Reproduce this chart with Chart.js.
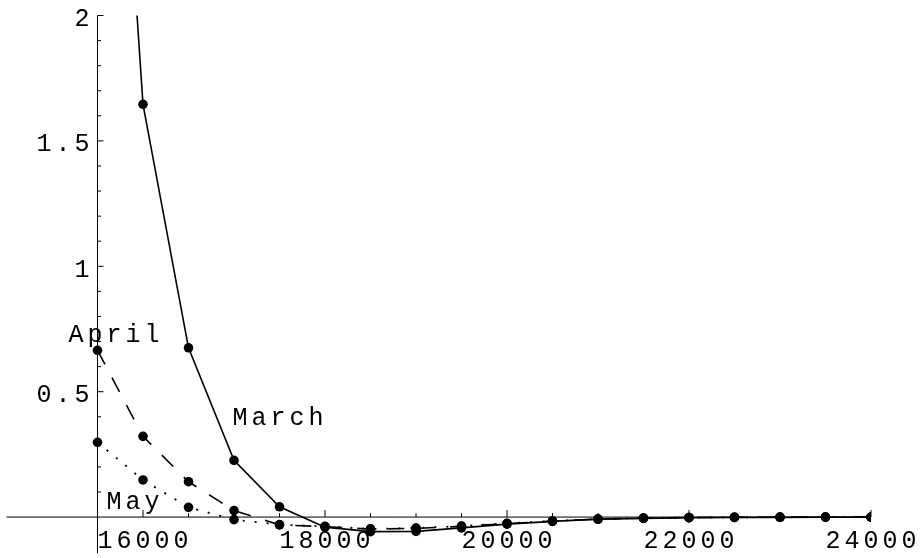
<!DOCTYPE html>
<html>
<head>
<meta charset="utf-8">
<script src="https://cdn.jsdelivr.net/npm/chart.js@4/dist/chart.umd.min.js"></script>
<style>
  html, body { margin: 0; padding: 0; background: #fff; }
  #wrap { width: 923px; height: 558px; }
</style>
</head>
<body>
<div id="wrap"><canvas id="chart" width="923" height="558"></canvas></div>
<script>
// Values (x in steps of 500)
const xValues = [15500, 16000, 16500, 17000, 17500, 18000, 18500, 19000, 19500,
                 20000, 20500, 21000, 21500, 22000, 22500, 23000, 23500, 24000]
const marchValues = [4.35, 1.646, 0.675, 0.226, 0.041, -0.04, -0.058, -0.057, -0.043,
                     -0.028, -0.017, -0.008, -0.005, -0.002, -0.001, -0.001, 0, 0]
const aprilValues = [0.665, 0.322, 0.141, 0.026, -0.031, -0.038, -0.048, -0.045, -0.037,
                     -0.026, -0.016, -0.008, -0.004, -0.002, -0.001, 0, 0, 0]
const mayValues = [0.298, 0.148, 0.039, -0.01, -0.03, -0.037, -0.047, -0.044, -0.036,
                   -0.025, -0.016, -0.008, -0.004, -0.002, -0.001, 0, 0, 0]
const seriesNames = ['March', 'April', 'May']
const xTickLabels = [16000, 18000, 20000, 22000, 24000]
const yTickLabels = [0.5, 1, 1.5, 2]

const FONT = '25px "Liberation Mono", "DejaVu Sans Mono", monospace'
const SPACING = 4

const toPoints = (vals) => xValues.map((x, i) => ({ x: x, y: vals[i] }))

// label anchors in data units (left edge, baseline)
const labelAnchors = {
  March: { x: 16984, y: 0.368 },
  April: { x: 15181, y: 0.698 },
  May: { x: 15599, y: 0.034 }
}

function drawText(ctx, text, x, y, align) {
  ctx.save()
  ctx.font = FONT
  ctx.fillStyle = '#000'
  ctx.textBaseline = 'alphabetic'
  if ('letterSpacing' in ctx) ctx.letterSpacing = SPACING + 'px'
  const w = ctx.measureText(text).width
  let left = x
  if (align === 'center') left = x - (w - SPACING) / 2
  if (align === 'right') left = x - (w - SPACING)
  ctx.textAlign = 'left'
  ctx.fillText(text, left, y)
  ctx.restore()
}

const axesPlugin = {
  id: 'mathAxes',
  beforeDatasetsDraw(chart) {
    const ctx = chart.ctx
    const xs = chart.scales.x
    const ys = chart.scales.y
    const area = chart.chartArea
    const y0 = ys.getPixelForValue(0)
    const x0 = xs.getPixelForValue(15500)

    ctx.save()
    ctx.strokeStyle = '#000'
    ctx.lineWidth = 1
    ctx.beginPath()
    ctx.moveTo(area.left, y0)
    ctx.lineTo(area.right, y0)
    ctx.moveTo(x0, ys.getPixelForValue(2))
    ctx.lineTo(x0, area.bottom)

    // x ticks, every 500 with majors every 2000
    for (let v = 16000; v <= 24000; v += 500) {
      const px = xs.getPixelForValue(v)
      const len = v % 2000 === 0 ? 7 : 4
      ctx.moveTo(px, y0)
      ctx.lineTo(px, y0 - len)
    }
    // y ticks, every 0.1 with majors every 0.5
    for (let k = 1; k <= 20; k++) {
      const py = ys.getPixelForValue(k / 10)
      const len = k % 5 === 0 ? 6 : 3.5
      ctx.moveTo(x0, py)
      ctx.lineTo(x0 + len, py)
    }
    ctx.stroke()
    ctx.restore()
  },
  afterDraw(chart) {
    const ctx = chart.ctx
    const xs = chart.scales.x
    const ys = chart.scales.y
    const y0 = ys.getPixelForValue(0)
    const x0 = xs.getPixelForValue(15500)

    xTickLabels.forEach(v => {
      drawText(ctx, String(v), xs.getPixelForValue(v), y0 + 31, 'center')
    })
    yTickLabels.forEach(v => {
      drawText(ctx, String(v), x0 - 8, ys.getPixelForValue(v) + 10.5, 'right')
    })
    seriesNames.forEach(name => {
      const a = labelAnchors[name]
      drawText(ctx, name, xs.getPixelForValue(a.x), ys.getPixelForValue(a.y), 'left')
    })
  }
}

function makeDataset(label, vals, dash, width) {
  return {
    label: label,
    data: toPoints(vals),
    borderColor: '#000',
    backgroundColor: '#000',
    borderWidth: width,
    borderDash: dash,
    pointRadius: 4.8,
    pointBorderWidth: 0,
    pointBackgroundColor: '#000',
    tension: 0,
    clip: 0
  }
}

new Chart(document.getElementById('chart').getContext('2d'), {
  type: 'line',
  data: {
    datasets: [
      makeDataset(seriesNames[0], marchValues, [], 1.6),
      makeDataset(seriesNames[1], aprilValues, [16, 15], 1.6),
      makeDataset(seriesNames[2], mayValues, [2, 10], 1.8)
    ]
  },
  options: {
    responsive: false,
    animation: false,
    layout: { padding: { left: 6.5, right: 52, top: 15.5, bottom: 0 } },
    plugins: { legend: { display: false }, tooltip: { enabled: false } },
    scales: {
      x: { type: 'linear', min: 14500, max: 24000, display: false },
      y: { type: 'linear', min: -0.144, max: 2, display: false }
    }
  },
  plugins: [axesPlugin]
})
</script>
</body>
</html>
